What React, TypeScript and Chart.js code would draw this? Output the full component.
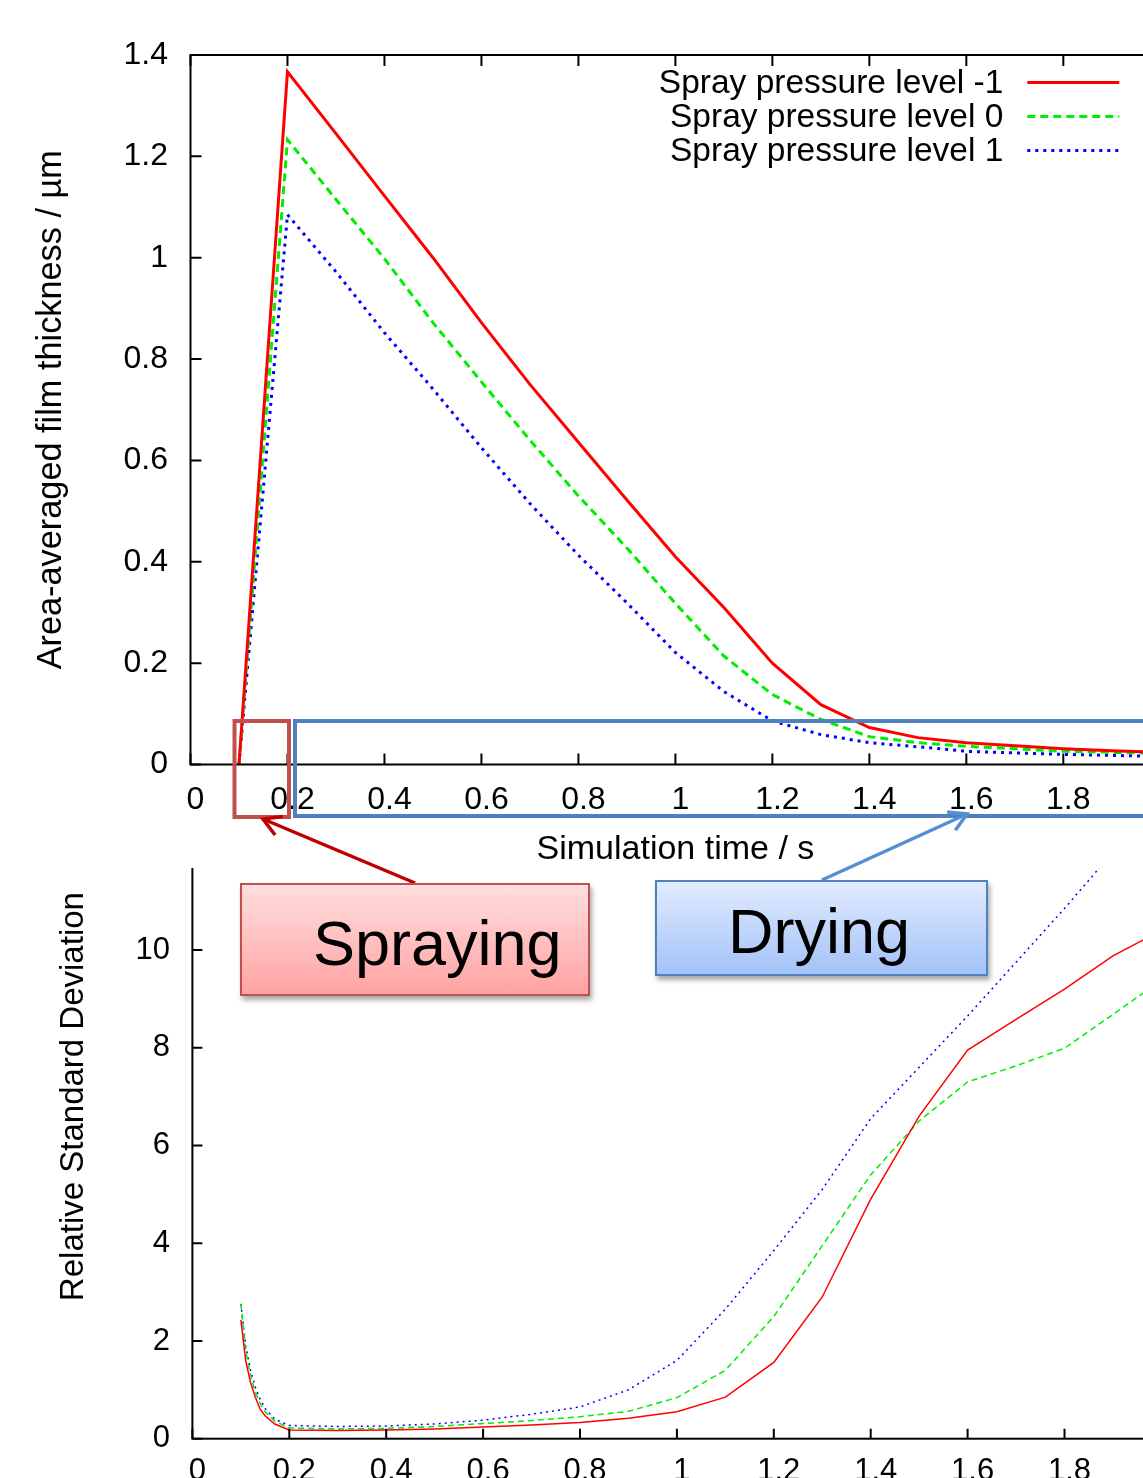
import React, { useEffect, useRef } from "react";
import { Chart, registerables } from "chart.js";

Chart.register(...registerables);

const FONT = '"Liberation Sans", Arial, sans-serif';
Chart.defaults.font.family = FONT;

// ---------- data ----------
const seriesLabels = ["Spray pressure level -1", "Spray pressure level 0", "Spray pressure level 1"];
const seriesColors = ["#ff0000", "#00ee00", "#0000ff"];

// Top chart: area-averaged film thickness (µm) vs simulation time (s)
const thicknessTime = [0.1, 0.2, 0.3, 0.4, 0.5, 0.6, 0.7, 0.8, 0.9, 1.0, 1.1, 1.2, 1.3, 1.4, 1.5, 1.6, 1.7, 1.8, 1.9, 2.0];
const thicknessLevelM1 = [0, 1.367, 1.245, 1.122, 1.0, 0.872, 0.75, 0.636, 0.522, 0.41, 0.31, 0.2, 0.118, 0.073, 0.053, 0.043, 0.037, 0.031, 0.027, 0.024];
const thicknessLevel0 = [0, 1.233, 1.115, 0.998, 0.872, 0.755, 0.64, 0.53, 0.427, 0.318, 0.214, 0.138, 0.089, 0.055, 0.043, 0.036, 0.031, 0.026, 0.024, 0.022];
const thicknessLevel1 = [0, 1.085, 0.972, 0.852, 0.741, 0.625, 0.515, 0.413, 0.319, 0.221, 0.144, 0.086, 0.059, 0.043, 0.035, 0.026, 0.023, 0.02, 0.018, 0.016];
const thicknessXTicks = [0, 0.2, 0.4, 0.6, 0.8, 1, 1.2, 1.4, 1.6, 1.8, 2];
const thicknessYTicks = [0, 0.2, 0.4, 0.6, 0.8, 1, 1.2, 1.4];

// Bottom chart: relative standard deviation vs simulation time (s)
const rsdTime = [0.1, 0.11, 0.12, 0.13, 0.14, 0.15, 0.17, 0.2, 0.3, 0.4, 0.5, 0.6, 0.7, 0.8, 0.9, 1.0, 1.1, 1.2, 1.3, 1.4, 1.5, 1.6, 1.7, 1.8, 1.9, 2.0];
const rsdLevelM1 = [2.43, 1.6, 1.15, 0.85, 0.6, 0.47, 0.3, 0.18, 0.17, 0.18, 0.2, 0.24, 0.28, 0.33, 0.42, 0.55, 0.85, 1.56, 2.9, 4.9, 6.6, 7.95, 8.58, 9.2, 9.88, 10.4];
const rsdLevel0 = [2.76, 1.8, 1.3, 0.95, 0.72, 0.55, 0.36, 0.22, 0.2, 0.21, 0.25, 0.31, 0.37, 0.45, 0.56, 0.84, 1.4, 2.5, 3.95, 5.4, 6.5, 7.3, 7.63, 7.99, 8.68, 9.38];
const rsdLevel1 = [2.76, 1.9, 1.4, 1.05, 0.8, 0.62, 0.4, 0.27, 0.25, 0.26, 0.3, 0.38, 0.5, 0.65, 1.0, 1.6, 2.65, 3.85, 5.1, 6.55, 7.6, 8.65, 9.75, 10.85, 12.0, 13.2];
const rsdXTicks = [0, 0.2, 0.4, 0.6, 0.8, 1, 1.2, 1.4, 1.6, 1.8, 2];
const rsdYTicks = [0, 2, 4, 6, 8, 10, 12, 14];

// ---------- helpers ----------
const pts = (xs: number[], ys: number[]) => xs.map((x, i) => ({ x, y: ys[i] }));

const whiteBg = {
  id: "whiteBg",
  beforeDraw(chart: any) {
    const { ctx, width, height } = chart;
    ctx.save();
    ctx.fillStyle = "#ffffff";
    ctx.fillRect(0, 0, width, height);
    ctx.restore();
  },
};

const framePlugin = {
  id: "frame",
  afterDatasetsDraw(chart: any, _args: any, opts: any) {
    const { ctx, chartArea: a, scales } = chart;
    const x = scales.x;
    const y = scales.y;
    const len = opts.tickLen ?? 10;
    ctx.save();
    ctx.strokeStyle = "#000";
    ctx.lineWidth = opts.lineWidth ?? 2;
    ctx.setLineDash([]);
    ctx.strokeRect(a.left, a.top, a.right - a.left, a.bottom - a.top);
    ctx.beginPath();
    x.ticks.forEach((t: any) => {
      const px = x.getPixelForValue(t.value);
      ctx.moveTo(px, a.bottom);
      ctx.lineTo(px, a.bottom - len);
      ctx.moveTo(px, a.top);
      ctx.lineTo(px, a.top + len);
    });
    y.ticks.forEach((t: any) => {
      const py = y.getPixelForValue(t.value);
      ctx.moveTo(a.left, py);
      ctx.lineTo(a.left + len, py);
      ctx.moveTo(a.right, py);
      ctx.lineTo(a.right - len, py);
    });
    ctx.stroke();
    ctx.restore();
  },
};

const keyPlugin = {
  id: "gnuKey",
  afterDraw(chart: any, _args: any, opts: any) {
    if (!opts || !opts.show) return;
    const { ctx, chartArea: a } = chart;
    const textRight = a.right - 157;
    ctx.save();
    chart.data.datasets.forEach((ds: any, i: number) => {
      const yy = a.top + 28.5 + i * 34;
      ctx.font = `33.5px ${FONT}`;
      ctx.fillStyle = "#000";
      ctx.textAlign = "right";
      ctx.textBaseline = "middle";
      ctx.fillText(ds.label, textRight, yy + 0.5);
      ctx.strokeStyle = ds.borderColor;
      ctx.lineWidth = ds.borderWidth;
      ctx.setLineDash(ds.borderDash || []);
      ctx.beginPath();
      ctx.moveTo(textRight + 24, yy - 1);
      ctx.lineTo(textRight + 116, yy - 1);
      ctx.stroke();
    });
    ctx.restore();
  },
};

function fixedTicks(values: number[]) {
  return (scale: any) => {
    scale.ticks = values.map((value) => ({ value }));
  };
}

function ThicknessChart() {
  const ref = useRef<HTMLCanvasElement | null>(null);
  useEffect(() => {
    if (!ref.current) return;
    const chart = new Chart(ref.current, {
      type: "line",
      data: {
        datasets: [
          { label: seriesLabels[0], data: pts(thicknessTime, thicknessLevelM1), borderColor: seriesColors[0], borderWidth: 3, borderDash: [] },
          { label: seriesLabels[1], data: pts(thicknessTime, thicknessLevel0), borderColor: seriesColors[1], borderWidth: 3, borderDash: [8, 5] },
          { label: seriesLabels[2], data: pts(thicknessTime, thicknessLevel1), borderColor: seriesColors[2], borderWidth: 3, borderDash: [3, 5] },
        ],
      },
      options: {
        animation: false,
        responsive: false,
        devicePixelRatio: 1,
        events: [],
        layout: { padding: { top: 55, right: 14.7, left: 0, bottom: 0 } },
        elements: { point: { radius: 0 }, line: { tension: 0, borderCapStyle: "butt" } },
        plugins: {
          legend: { display: false },
          tooltip: { enabled: false },
          frame: { tickLen: 11, lineWidth: 2 },
          gnuKey: { show: true },
        },
        scales: {
          x: {
            type: "linear",
            min: 0,
            max: 2,
            afterBuildTicks: fixedTicks(thicknessXTicks),
            afterFit: (s: any) => { s.height = 868 - 764.5; s.paddingLeft = 0; s.paddingRight = 0; },
            grid: { display: false, drawTicks: false },
            border: { display: false },
            ticks: { padding: 16, labelOffset: 5, color: "#000", font: { size: 32 }, maxRotation: 0, autoSkip: false, callback: (v: any) => String(v) },
            title: { display: true, text: "Simulation time / s", color: "#000", font: { size: 34, lineHeight: 1.1 }, padding: 0 },
          },
          y: {
            type: "linear",
            min: 0,
            max: 1.4,
            afterBuildTicks: fixedTicks(thicknessYTicks),
            afterFit: (s: any) => { s.width = 190.5; s.paddingTop = 0; s.paddingBottom = 0; },
            grid: { display: false, drawTicks: false },
            border: { display: false },
            ticks: { padding: 22.5, color: "#000", font: { size: 32 }, autoSkip: false, callback: (v: any) => String(v) },
            title: { display: true, text: "Area-averaged film thickness / µm", color: "#000", font: { size: 34.3 }, padding: { top: 30.5, bottom: 0 } },
          },
        },
      },
      plugins: [whiteBg, framePlugin, keyPlugin],
    } as any);
    return () => chart.destroy();
  }, []);
  return <canvas ref={ref} width={1175} height={868} style={{ position: "absolute", left: 0, top: 0, zIndex: 2 }} />;
}

function RsdChart() {
  const ref = useRef<HTMLCanvasElement | null>(null);
  useEffect(() => {
    if (!ref.current) return;
    const chart = new Chart(ref.current, {
      type: "line",
      data: {
        datasets: [
          { label: seriesLabels[0], data: pts(rsdTime, rsdLevelM1), borderColor: seriesColors[0], borderWidth: 1.5, borderDash: [] },
          { label: seriesLabels[1], data: pts(rsdTime, rsdLevel0), borderColor: seriesColors[1], borderWidth: 1.5, borderDash: [6, 4] },
          { label: seriesLabels[2], data: pts(rsdTime, rsdLevel1), borderColor: seriesColors[2], borderWidth: 1.5, borderDash: [2, 4] },
        ],
      },
      options: {
        animation: false,
        responsive: false,
        devicePixelRatio: 1,
        events: [],
        layout: { padding: { top: 54.5, right: 13.6, left: 0, bottom: 0 } },
        elements: { point: { radius: 0 }, line: { tension: 0, borderCapStyle: "butt" } },
        plugins: {
          legend: { display: false },
          tooltip: { enabled: false },
          frame: { tickLen: 10, lineWidth: 2 },
          gnuKey: { show: false },
        },
        scales: {
          x: {
            type: "linear",
            min: 0,
            max: 2,
            afterBuildTicks: fixedTicks(rsdXTicks),
            afterFit: (s: any) => { s.height = 820 - 738.7; s.paddingLeft = 0; s.paddingRight = 0; },
            grid: { display: false, drawTicks: false },
            border: { display: false },
            ticks: { padding: 14, labelOffset: 5, color: "#000", font: { size: 31 }, maxRotation: 0, autoSkip: false, callback: (v: any) => String(v) },
          },
          y: {
            type: "linear",
            min: 0,
            max: 14,
            afterBuildTicks: fixedTicks(rsdYTicks),
            afterFit: (s: any) => { s.width = 192.4; s.paddingTop = 0; s.paddingBottom = 0; },
            grid: { display: false, drawTicks: false },
            border: { display: false },
            ticks: { padding: 22.4, color: "#000", font: { size: 31 }, autoSkip: false, callback: (v: any) => String(v) },
            title: { display: true, text: "Relative Standard Deviation", color: "#000", font: { size: 33 }, padding: { top: 54, bottom: 0 } },
          },
        },
      },
      plugins: [framePlugin, keyPlugin],
    } as any);
    return () => chart.destroy();
  }, []);
  return <canvas ref={ref} width={1175} height={820} style={{ position: "absolute", left: 0, top: 700, zIndex: 1 }} />;
}

function arrowHead(tipX: number, tipY: number, fromX: number, fromY: number, len: number, ang: number) {
  const dx = fromX - tipX;
  const dy = fromY - tipY;
  const d = Math.hypot(dx, dy);
  const ux = dx / d;
  const uy = dy / d;
  const rot = (a: number) => [ux * Math.cos(a) - uy * Math.sin(a), ux * Math.sin(a) + uy * Math.cos(a)];
  const [ax, ay] = rot(ang);
  const [bx, by] = rot(-ang);
  return `M ${tipX + ax * len} ${tipY + ay * len} L ${tipX} ${tipY} L ${tipX + bx * len} ${tipY + by * len}`;
}

function Annotations() {
  const labelStyle: React.CSSProperties = {
    position: "absolute",
    fontFamily: FONT,
    fontSize: 63,
    lineHeight: "63px",
    color: "#000",
    whiteSpace: "nowrap",
    zIndex: 5,
  };
  return (
    <>
      <svg width={1143} height={1478} style={{ position: "absolute", left: 0, top: 0, zIndex: 3, pointerEvents: "none" }}>
        <rect x={234.5} y={721} width={54.5} height={96} fill="none" stroke="#c0504d" strokeWidth={4} />
        <rect x={295} y={721} width={900} height={95} fill="none" stroke="#4f81bd" strokeWidth={4} />
        <line x1={415} y1={883} x2={263} y2={819} stroke="#c00000" strokeWidth={3.5} />
        <path d={arrowHead(263, 819, 415, 883, 20, Math.PI / 6)} fill="none" stroke="#c00000" strokeWidth={3.5} />
        <line x1={822} y1={880} x2={967} y2={814} stroke="#558ed5" strokeWidth={3.5} />
        <path d={arrowHead(967, 814, 822, 880, 20, Math.PI / 6)} fill="none" stroke="#558ed5" strokeWidth={3.5} />
      </svg>
      <div
        style={{
          position: "absolute",
          left: 240,
          top: 883,
          width: 350,
          height: 113,
          boxSizing: "border-box",
          border: "2px solid #c0504d",
          background: "linear-gradient(#ffdede, #ffa3a3)",
          boxShadow: "2px 4px 5px rgba(0,0,0,0.35)",
          zIndex: 4,
        }}
      />
      <div style={{ ...labelStyle, left: 313, top: 912 }}>Spraying</div>
      <div
        style={{
          position: "absolute",
          left: 655,
          top: 880,
          width: 333,
          height: 96,
          boxSizing: "border-box",
          border: "2px solid #4f81bd",
          background: "linear-gradient(#e2ebff, #a3c2f7)",
          boxShadow: "2px 4px 5px rgba(0,0,0,0.35)",
          zIndex: 4,
        }}
      />
      <div style={{ ...labelStyle, left: 728, top: 900 }}>Drying</div>
    </>
  );
}

export default function App() {
  return (
    <div
      style={{
        position: "absolute",
        left: 0,
        top: 0,
        width: 1143,
        height: 1478,
        overflow: "hidden",
        background: "#ffffff",
      }}
    >
      <RsdChart />
      <ThicknessChart />
      <Annotations />
    </div>
  );
}
